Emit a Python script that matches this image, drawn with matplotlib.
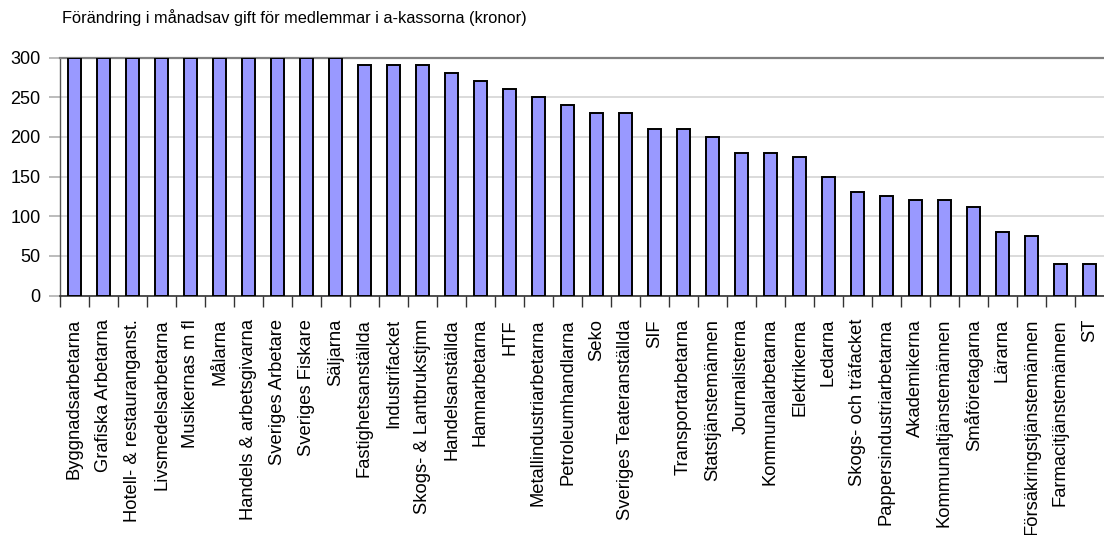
import matplotlib
matplotlib.use("Agg")
import matplotlib.pyplot as plt
import numpy as np

categories = [
    "Byggnadsarbetarna", "Grafiska Arbetarna", "Hotell- & restauranganst.",
    "Livsmedelsarbetarna", "Musikernas m fl", "Målarna",
    "Handels & arbetsgivarna", "Sveriges Arbetare", "Sveriges Fiskare",
    "Säljarna", "Fastighetsanställda", "Industrifacket",
    "Skogs- & Lantbrukstjmn", "Handelsanställda", "Hamnarbetarna", "HTF",
    "Metallindustriarbetarna", "Petroleumhandlarna", "Seko",
    "Sveriges Teateranställda", "SIF", "Transportarbetarna",
    "Statstjänstemännen", "Journalisterna", "Kommunalarbetarna",
    "Elektrikerna", "Ledarna", "Skogs- och träfacket",
    "Pappersindustriarbetarna", "Akademikerna", "Kommunaltjänstemännen",
    "Småföretagarna", "Lärarna", "Försäkringstjänstemännen",
    "Farmacitjänstemännen", "ST",
]
values = [
    300, 300, 300, 300, 300, 300, 300, 300, 300, 300,
    290, 290, 290, 280, 270, 260, 250, 240, 230, 230,
    210, 210, 200, 180, 180, 175, 150, 131, 126, 121,
    121, 111, 80, 75, 40, 40,
]
yticks = [0, 50, 100, 150, 200, 250, 300]
title = "Förändring i månadsav gift för medlemmar i a-kassorna (kronor)"

plt.rcParams["font.family"] = ["Liberation Sans", "DejaVu Sans"]

fig = plt.figure(figsize=(11.04, 5.35), dpi=100)
ax = fig.add_axes([60 / 1104, 1 - 295.5 / 535, 1 - 60 / 1104, (295.5 - 57.5) / 535])

x = np.arange(len(categories))
ax.bar(x, values, width=0.45, color="#9999FF", edgecolor="black",
       linewidth=1.4, zorder=3)

ax.set_xlim(-0.5, len(categories) - 0.5)
ax.set_ylim(0, 300)
ax.set_yticks(yticks)
ax.set_yticklabels([str(v) for v in yticks], fontsize=13)
ax.yaxis.grid(True, color="#d4d4d4", linewidth=1.2, zorder=0)
ax.tick_params(axis="y", length=8, color="#b0b0b0", width=1.2, pad=6)

ax.set_xticks(x)
ax.set_xticklabels(categories, rotation=90, fontsize=13.2, va="top", ha="center")
ax.tick_params(axis="x", which="major", length=0, pad=17)
ax.set_xticks(np.arange(0, len(categories)) - 0.5, minor=True)
ax.tick_params(axis="x", which="minor", length=8, color="#333333", width=1)

ax.spines["right"].set_visible(False)
ax.spines["left"].set_color("#555555")
ax.spines["left"].set_linewidth(1.0)
ax.spines["top"].set_color("#808080")
ax.spines["top"].set_linewidth(1.6)
ax.spines["bottom"].set_color("#333333")
ax.spines["bottom"].set_linewidth(1.2)

fig.text(62 / 1104, 1 - 18 / 535, title, fontsize=11.8, va="center", ha="left")

fig.savefig("out.png", dpi=100)
